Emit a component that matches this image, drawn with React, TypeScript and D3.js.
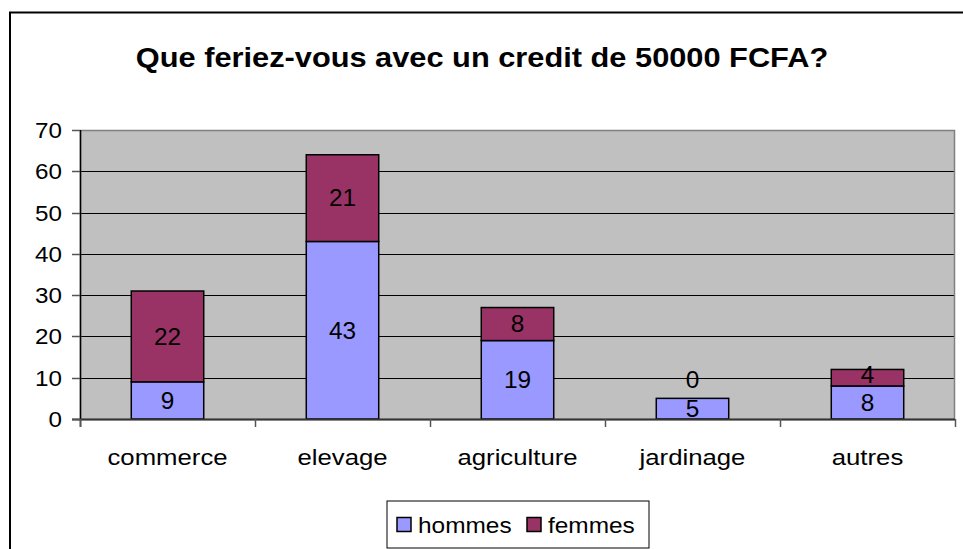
import React from "react";
import * as d3 from "d3";

const categories = ["commerce", "elevage", "agriculture", "jardinage", "autres"];
const hommes = [9, 43, 19, 5, 8];
const femmes = [22, 21, 8, 0, 4];
const seriesNames = ["hommes", "femmes"];
const seriesColors = ["#9999FF", "#993366"];
const yTicks = [0, 10, 20, 30, 40, 50, 60, 70];
const title = "Que feriez-vous avec un credit de 50000 FCFA?";

const W = 963;
const H = 549;
const FONT = "Arial, 'Liberation Sans', sans-serif";

function STxt(props: { x: number; y: number; sx: number; size: number; anchor?: string; bold?: boolean; children: any }) {
  const { x, y, sx, size, anchor = "start", bold, children } = props;
  return (
    <text transform={`translate(${x},${y}) scale(${sx},1)`} textAnchor={anchor} fontSize={size}
      fontWeight={bold ? "bold" : "normal"} fill="#000">{children}</text>
  );
}

export default function App() {
  const left = 80, right = 955, top = 130, bottom = 419;
  const x = d3.scaleBand<string>().domain(categories).range([left, right]).paddingInner(0.586).paddingOuter(0.293);
  const y = d3.scaleLinear().domain([0, 70]).range([bottom, top]);

  const rows = categories.map((c, i) => ({ cat: c, hommes: hommes[i], femmes: femmes[i] }));
  const stack = d3.stack<any>().keys(seriesNames)(rows);

  const boundaries = d3.range(categories.length + 1).map((i) => left + (i * (right - left)) / categories.length);

  return (
    <svg width={W} height={H} style={{ position: "absolute", left: 0, top: 0, background: "#fff" }} fontFamily={FONT}>
      <rect x={10} y={12.5} width={W + 20} height={H + 20} fill="#fff" stroke="#000" strokeWidth={2} />
      <STxt x={482} y={67} sx={1.14} size={27} anchor="middle" bold>{title}</STxt>

      <rect x={left} y={top} width={right - left} height={bottom - top} fill="#C0C0C0" />
      {yTicks.filter((t) => t > 0 && t < 70).map((t) => (
        <line key={t} x1={left} x2={right} y1={Math.round(y(t)) + 0.5} y2={Math.round(y(t)) + 0.5} stroke="#000" strokeWidth={1} />
      ))}
      <rect x={left + 0.5} y={top + 0.5} width={right - left - 1} height={bottom - top} fill="none" stroke="#808080" strokeWidth={1.5} />

      {stack.map((s, si) => (
        <g key={s.key}>
          {s.map((d, i) => {
            const h = y(d[0]) - y(d[1]);
            if (h <= 0) return null;
            return (
              <rect key={i} x={x(categories[i])!} y={y(d[1])} width={x.bandwidth()} height={h}
                fill={seriesColors[si]} stroke="#000" strokeWidth={1.5} />
            );
          })}
        </g>
      ))}

      {stack.map((s, si) => (
        <g key={"l" + s.key}>
          {s.map((d, i) => {
            const v = d[1] - d[0];
            let cy = (y(d[0]) + y(d[1])) / 2;
            if (v === 0) cy = y(d[1]) - 19;
            if (v > 0 && y(d[0]) - y(d[1]) < 20) cy -= 3;
            return (
              <STxt key={i} x={x(categories[i])! + x.bandwidth() / 2} y={cy + 8.3} sx={1.06} size={23} anchor="middle">{v}</STxt>
            );
          })}
        </g>
      ))}

      <line x1={left + 0.5} x2={left + 0.5} y1={top} y2={bottom + 8} stroke="#000" strokeWidth={1.5} />
      <line x1={left - 8} x2={right} y1={bottom + 0.5} y2={bottom + 0.5} stroke="#333" strokeWidth={2} />
      {yTicks.map((t) => (
        <g key={"yt" + t}>
          <line x1={left - 8} x2={left} y1={Math.round(y(t)) + 0.5} y2={Math.round(y(t)) + 0.5} stroke="#555" strokeWidth={1.5} />
          <STxt x={62} y={y(t) + 8} sx={1.1} size={22} anchor="end">{t}</STxt>
        </g>
      ))}
      {boundaries.map((bx, i) => (
        <line key={"xt" + i} x1={Math.round(bx) + 0.5} x2={Math.round(bx) + 0.5} y1={bottom} y2={bottom + 8} stroke="#555" strokeWidth={1.5} />
      ))}
      {categories.map((c) => (
        <STxt key={"xl" + c} x={x(c)! + x.bandwidth() / 2} y={465} sx={1.17} size={22} anchor="middle">{c}</STxt>
      ))}

      <rect x={387} y={501} width={262} height={47} fill="#fff" stroke="#000" strokeWidth={1} />
      {seriesNames.map((n, i) => {
        const lx = i === 0 ? 397 : 527;
        return (
          <g key={"lg" + n}>
            <rect x={lx} y={517.5} width={14} height={14} fill={seriesColors[i]} stroke="#000" strokeWidth={1.5} />
            <STxt x={lx + 21} y={533} sx={1.11} size={22}>{n}</STxt>
          </g>
        );
      })}
    </svg>
  );
}
